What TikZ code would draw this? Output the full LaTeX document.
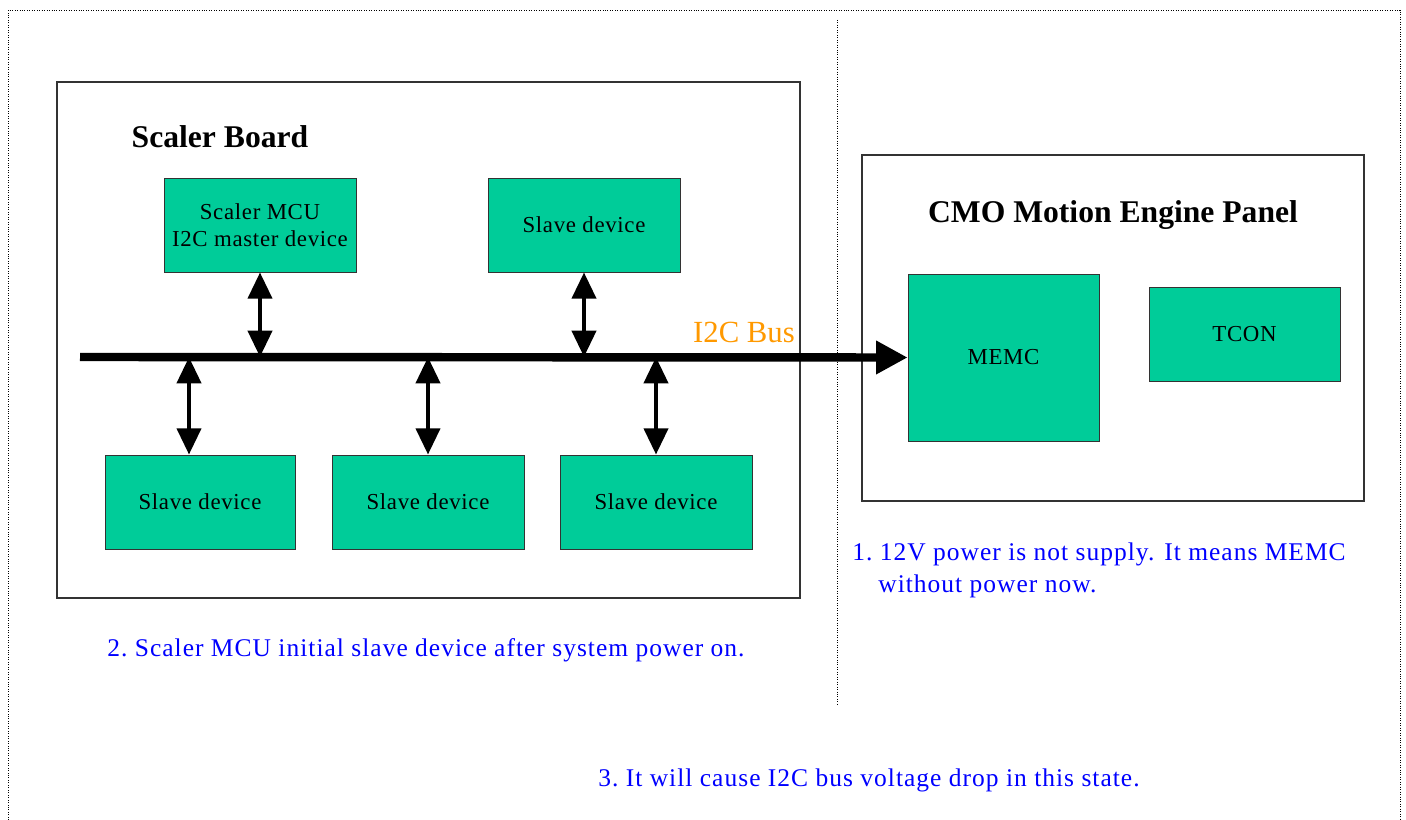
\documentclass[tikz,border=0pt]{standalone}
\usepackage{fontspec}
\setmainfont{Liberation Serif}
\newfontfamily\notefont[LetterSpace=4]{Liberation Serif}
\newfontfamily\boxfont[LetterSpace=3]{Liberation Serif}
\usetikzlibrary{arrows.meta,calc}
\definecolor{devgreen}{RGB}{0,204,153}
\definecolor{busorange}{RGB}{255,153,0}
\tikzset{
%Define standard arrow tip
>={Triangle[length=15pt,width=13.5pt]},
%Define styles for boxes, lines and texts
device/.style={draw=black!80, fill=devgreen, thin, minimum width=3.84cm, minimum height=1.88cm, align=center, font=\boxfont\fontsize{13}{15.5}\selectfont},
panel/.style={draw=black!80, line width=1pt},
frame line/.style={densely dotted, thin},
bus line/.style={line width=4.8pt, -{Triangle[length=18pt,width=18pt]}},
link/.style={line width=2.8pt, <->},
note/.style={blue, inner sep=0pt, font=\notefont\fontsize{14.5}{18.7}\selectfont},
heading/.style={inner sep=0pt, font=\bfseries\fontsize{18}{21}\selectfont},
}

\begin{document}
\begin{tikzpicture}[x=0.02cm,y=-0.02cm]
    \useasboundingbox (0,0) rectangle (1406,820);
    % Frame and separator
    \coordinate (sepTop) at (837,20);
    \coordinate (sepBot) at (837,705);
    \draw[frame line] (8,820) -- (8,10) -- (1400,10) -- (1400,820);
    \draw[frame line] (sepTop) -- (sepBot);

    % Scaler board
    \node[panel, minimum width=14.86cm, minimum height=10.32cm] (board) at (428.5,340) {};
    \node[heading] (boardTitle) at (220,137) {Scaler Board};
    \node[device] (master) at (260,225) {Scaler MCU\\I2C master device};
    \node[device] (slaveA) at (584,225) {Slave device};
    \node[device, minimum width=3.8cm] (slaveB) at (200,502) {Slave device};
    \node[device] (slaveC) at (428,502) {Slave device};
    \node[device] (slaveD) at (656,502) {Slave device};

    % Motion engine panel
    \node[panel, minimum width=10.04cm, minimum height=6.92cm] (engine) at (1113,328) {};
    \node[heading] (engineTitle) at (1113,215) {CMO Motion Engine Panel};
    \node[device, minimum width=3.82cm, minimum height=3.34cm] (memc) at (1003.5,357.5) {MEMC};
    \node[device, minimum width=3.82cm] (tcon) at (1244.5,334) {TCON};

    % Let us define the bus taps
    \path
    coordinate (busStart) at (80,357)
    coordinate (tapB) at (189,357)
    coordinate (tapC) at (428,357)
    coordinate (tapD) at (656,357);

    \draw[bus line] (busStart) -- (memc.west);
    \node[busorange, inner sep=0pt, font=\fontsize{17.5}{20}\selectfont] (busLabel) at (744,332) {I2C Bus};

    \draw[link] (master.south) -- (master.south |- busStart);
    \draw[link] (slaveA.south) -- (slaveA.south |- busStart);
    \draw[link] (tapB) -- (tapB |- slaveB.north);
    \draw[link] (tapC) -- (slaveC.north);
    \draw[link] (tapD) -- (slaveD.north);

    % Notes
    \node[note, anchor=north west, align=left] (note1) at (852,542)
      {1.\ 12V power is not supply. It means MEMC\\\hspace*{0.52cm}without power now.};
    \node[note, anchor=west] (note2) at (107,650)
      {2.\ Scaler MCU initial slave device after system power on.};
    \node[note, anchor=west] (note3) at (598,780)
      {3.\ It will cause I2C bus voltage drop in this state.};
\end{tikzpicture}
\end{document}
